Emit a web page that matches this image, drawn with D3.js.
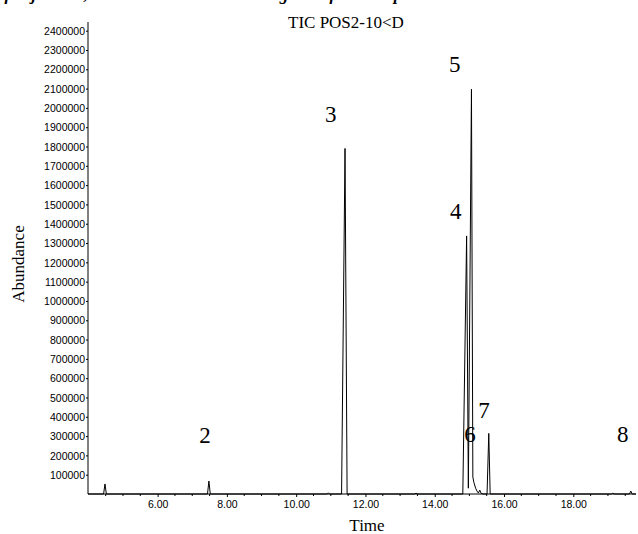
<!DOCTYPE html>
<html><head><meta charset="utf-8">
<script src="https://cdn.jsdelivr.net/npm/d3@7"></script>
<style>body{margin:0;background:#fff}svg{display:block}</style>
</head><body>
<svg id="c" width="638" height="534"></svg>
<script>
// ---- data ----
const times     = [3.99, 4.44, 4.48, 4.52, 7.44, 7.48, 7.52, 10.90, 10.93, 10.96, 11.31, 11.41, 11.47, 13.43, 13.46, 13.49,
                   14.81, 14.92, 14.97, 15.06, 15.10, 15.13, 15.18, 15.22, 15.26, 15.30, 15.34, 15.40,
                   15.51, 15.56, 15.60, 19.10, 19.14, 19.18, 19.62, 19.66, 19.70, 19.81];
const abundance = [0, 0, 52000, 0, 0, 67000, 0, 0, 6000, 0, 0, 1790000, 0, 0, 5000, 0,
                   0, 1337000, 30000, 2097000, 88000, 60000, 30000, 15000, 5000, 20000, 3000, 0,
                   0, 314000, 0, 0, 4000, 0, 0, 15000, 0, 0];
const yTickValues = d3.range(100000, 2400001, 100000);
const xTickValues = [6, 8, 10, 12, 14, 16, 18];
const peakLabels  = ["2", "3", "4", "5", "6", "7", "8"];
const labelTimes  = [7.37, 11.00, 14.61, 14.58, 15.02, 15.42, 19.43];
const labelAbund  = [264000, 1927000, 1425000, 2187000, 269000, 394000, 269000];
const titleText = "TIC POS2-10<D";
const xTitle = "Time";
const yTitle = "Abundance";
const topText = "of Jojoba oil, GC-MS total ion chromatogram of the sample";

// ---- layout ----
const svg = d3.select("#c");
const x = d3.scaleLinear().domain([3.99, 19.81]).range([88, 636]);
const y = d3.scaleLinear().domain([0, 2445000]).range([494, 22]);
const serif = "'Liberation Serif','Times New Roman',serif";
const sans = "'Liberation Sans',Arial,sans-serif";

// cropped italic caption at the very top (only its lower edge is visible)
svg.append("text").attr("x", -4).attr("y", 0)
  .attr("font-family", serif).attr("font-style", "italic").attr("font-weight", "bold")
  .attr("font-size", 17).text(topText);

// y axis
const yAxis = d3.axisLeft(y).tickValues(yTickValues).tickSize(2).tickPadding(1)
  .tickFormat(d3.format("d"));
const gy = svg.append("g").attr("transform", "translate(88,0)").call(yAxis);
gy.select(".domain").attr("d", `M0,${y.range()[1]}V${y(0)}`).attr("stroke", "#000");
gy.selectAll("text").attr("font-family", sans).attr("font-size", 10.5).attr("dy", "0.35em");

// x axis
const xAxis = d3.axisBottom(x).tickValues(xTickValues).tickSize(3).tickPadding(4)
  .tickFormat(d3.format(".2f"));
const gx = svg.append("g").attr("transform", `translate(0,${y(0)})`).call(xAxis);
gx.select(".domain").attr("d", `M${x.range()[0]},0H${x.range()[1]}`).attr("stroke", "#000");
gx.selectAll("text").attr("font-family", sans).attr("font-size", 10.5);
// minor x ticks
svg.append("g").selectAll("line").data(d3.range(4.5, 19.81, 0.5).filter(v => v % 2 !== 0))
  .join("line").attr("x1", d => x(d)).attr("x2", d => x(d))
  .attr("y1", y(0)).attr("y2", y(0) + 2).attr("stroke", "#000");

// trace
const pts = times.map((t, i) => [t, abundance[i]]);
svg.append("path").datum(pts)
  .attr("d", d3.line().x(d => x(d[0])).y(d => y(d[1])))
  .attr("fill", "none").attr("stroke", "#000").attr("stroke-width", 1);

// peak labels
svg.append("g").selectAll("text").data(peakLabels).join("text")
  .attr("x", (d, i) => x(labelTimes[i])).attr("y", (d, i) => y(labelAbund[i]))
  .attr("text-anchor", "middle").attr("font-family", serif).attr("font-size", 23)
  .text(d => d);

// titles
svg.append("text").attr("x", 288).attr("y", 28).attr("font-family", serif).attr("font-size", 17).text(titleText);
svg.append("text").attr("x", 367).attr("y", 531).attr("text-anchor", "middle")
  .attr("font-family", serif).attr("font-size", 17).text(xTitle);
svg.append("text").attr("transform", "translate(24,264) rotate(-90)").attr("text-anchor", "middle")
  .attr("font-family", serif).attr("font-size", 17).text(yTitle);
</script>
</body></html>
